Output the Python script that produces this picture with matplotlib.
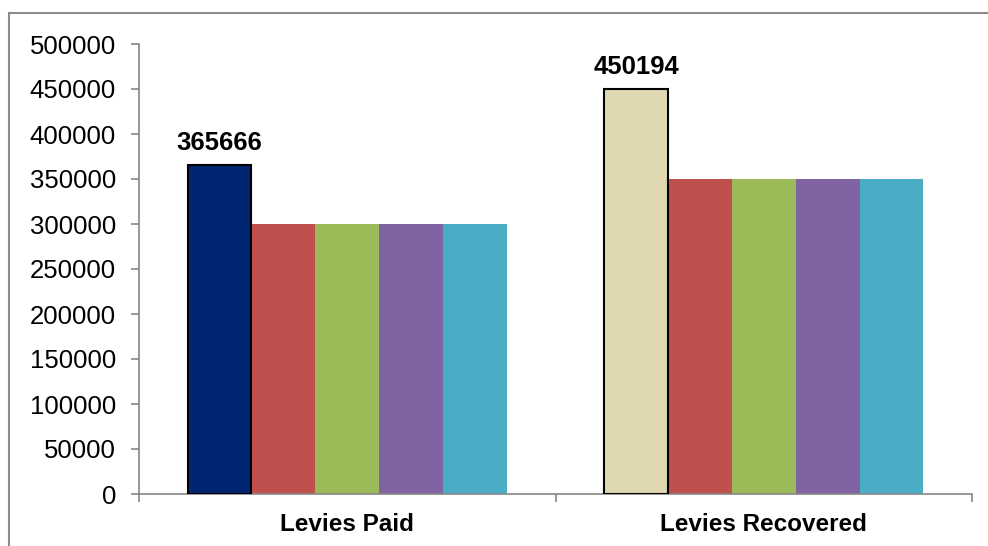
import matplotlib
matplotlib.use("Agg")
import matplotlib.pyplot as plt
from matplotlib.patches import Rectangle
import numpy as np

plt.rcParams['font.family'] = ['Liberation Sans', 'DejaVu Sans']

categories = ["Levies Paid", "Levies Recovered"]
series_1 = [365666, 450194]
series_2 = [300000, 350000]
series_3 = [300000, 350000]
series_4 = [300000, 350000]
series_5 = [300000, 350000]
y_ticks = [0, 50000, 100000, 150000, 200000, 250000, 300000, 350000, 400000, 450000, 500000]

first_colors = ["#002673", "#E0D8B0"]
other_colors = ["#C0504D", "#9BBB59", "#8064A2", "#4BACC6"]
axis_grey = "#868686"

fig = plt.figure(figsize=(9.88, 5.46), dpi=100)
W, H = 988, 546

# outer chart frame (extends past the right and bottom edges)
fig.add_artist(Rectangle((9 / W, -0.1), 1.2, 1 - 13 / H + 0.1, transform=fig.transFigure,
                         fill=False, edgecolor="#8C8C8C", linewidth=1.5))

ax = fig.add_axes([139 / W, 52 / H, (972 - 139) / W, (494 - 44) / H])

x = np.arange(len(categories))
bw = 0.1533
offsets = (np.arange(5) - 2) * bw

ax.bar(x + offsets[0], series_1, width=bw, color=first_colors,
       edgecolor="black", linewidth=1.5, zorder=3)
for off, vals, col in zip(offsets[1:], [series_2, series_3, series_4, series_5], other_colors):
    ax.bar(x + off, vals, width=bw, color=col, edgecolor="none", zorder=2)

for xi, v in zip(x + offsets[0], series_1):
    ax.annotate(f"{v}", (xi, v), xytext=(0, 10.4), textcoords="offset points",
                ha="center", va="baseline", fontsize=18.5, fontweight="bold")

ax.set_xlim(-0.5, 1.5)
ax.set_ylim(0, 500000)
ax.set_yticks(y_ticks)
ax.set_yticklabels([str(t) for t in y_ticks], fontsize=18.5)
ax.set_xticks(x)
ax.set_xticklabels(categories, fontsize=17.5, fontweight="bold")
ax.set_xticks([-0.5, 0.5, 1.5], minor=True)
ax.tick_params(axis="x", which="major", length=0, pad=14)
ax.tick_params(axis="x", which="minor", length=5.8, color=axis_grey, width=1.2)
ax.tick_params(axis="y", length=5.8, color=axis_grey, width=1.2, pad=10.8)

for s in ["top", "right"]:
    ax.spines[s].set_visible(False)
for s in ["left", "bottom"]:
    ax.spines[s].set_color(axis_grey)
    ax.spines[s].set_linewidth(1.2)

fig.savefig("out.png", dpi=100)
